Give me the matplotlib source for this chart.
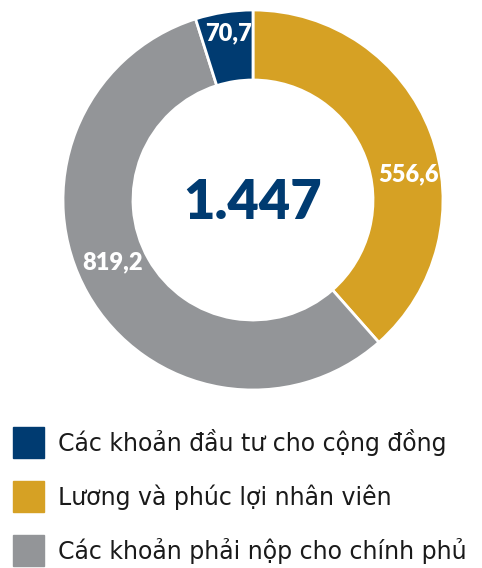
import matplotlib
matplotlib.use("Agg")
import matplotlib.pyplot as plt
from matplotlib.patches import Rectangle

# Data (order clockwise from top)
labels = ["Lương và phúc lợi nhân viên",
          "Các khoản phải nộp cho chính phủ",
          "Các khoản đầu tư cho cộng đồng"]
values = [556.6, 819.2, 70.7]
value_text = ["556,6", "819,2", "70,7"]
colors = ["#D6A124", "#939598", "#003B71"]
total_text = "1.447"

# legend order as in the reference
legend_order = [2, 0, 1]

W, H = 482, 568
fig = plt.figure(figsize=(W / 100, H / 100), dpi=100)

# donut: centre (253, 200) px, outer radius 190 px
cx, cy, r = 253, 200, 190
ax = fig.add_axes([(cx - r) / W, (H - cy - r) / H, 2 * r / W, 2 * r / H])
wedges, _ = ax.pie(values, colors=colors, startangle=90, counterclock=False,
                   radius=1.0, wedgeprops=dict(width=70 / 190, edgecolor="white",
                                               linewidth=2))
ax.set_xlim(-1, 1)
ax.set_ylim(-1, 1)
ax.set_aspect("equal")
ax.axis("off")

# value labels inside the ring (px positions of text centres)
label_pos = [(408, 174), (113, 262), (228, 33)]
for txt, (px, py) in zip(value_text, label_pos):
    ax.text((px - cx) / r, (cy - py) / r, txt, ha="center", va="center",
            color="white", fontsize=17, fontweight="heavy", family="Lato")

ax.text(0, (cy - 203) / r, total_text, ha="center", va="center",
        color="#003B71", fontsize=39, fontweight="heavy", family="Lato")

# legend
ys = [443, 497, 551]
for i, y in zip(legend_order, ys):
    fig.patches.append(Rectangle((13 / W, (H - y - 15) / H), 31 / W, 31 / H,
                                 transform=fig.transFigure, color=colors[i]))
    fig.text(58 / W, (H - y) / H, labels[i], ha="left", va="center",
             fontsize=17, color="#1a1a1a", family="DejaVu Sans")

fig.savefig("out.png", dpi=100, facecolor="white")
